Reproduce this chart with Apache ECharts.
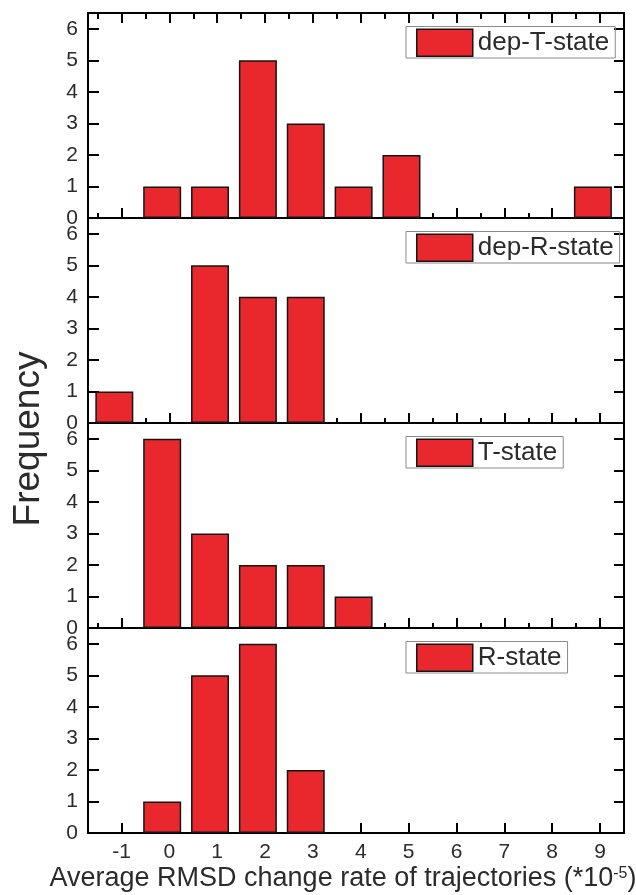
<!DOCTYPE html>
<html><head><meta charset="utf-8">
<script src="https://cdn.jsdelivr.net/npm/echarts@6/dist/echarts.min.js"></script>
<style>html,body{margin:0;padding:0;background:#fff}#c{width:636px;height:895px}</style>
</head><body><div id="c"></div><script>
// ---- data ----
const binCenters = [-1.15, -0.15, 0.85, 1.85, 2.85, 3.85, 4.85, 5.85, 6.85, 7.85, 8.85];
const xTickLabels = ['-1', '0', '1', '2', '3', '4', '5', '6', '7', '8', '9'];
const yTickLabels = ['0', '1', '2', '3', '4', '5', '6'];
const panelNames = ['dep-T-state', 'dep-R-state', 'T-state', 'R-state'];
const depTState = [0, 1, 1, 5, 3, 1, 2, 0, 0, 0, 1];
const depRState = [1, 0, 5, 4, 4, 0, 0, 0, 0, 0, 0];
const tState    = [0, 6, 3, 2, 2, 1, 0, 0, 0, 0, 0];
const rState    = [0, 1, 5, 6, 2, 0, 0, 0, 0, 0, 0];
const yAxisTitle = 'Frequency';
const xAxisTitle = 'Average RMSD change rate of trajectories (*10';
const xAxisTitleSup = '-5';

// ---- styling ----
const FONT = '"Liberation Sans", Arial, sans-serif';
const TXT = '#2b2b2b';
const RED = '#e8282d';
const panelTop = [13, 218, 423, 628];
const panelH = 205;
const X_MIN = -1.7, X_MAX = 9.5, Y_MAX = 6.5;
const seriesData = [depTState, depRState, tState, rState];
const lineStyle = { color: '#000', width: 2 };

function xFmt(v) {
  const r = Math.round(v);
  if (Math.abs(v - r) > 1e-6) return '';
  const lab = xTickLabels[r + 1];
  return lab == null ? '' : lab;
}
function yFmt(v) {
  const r = Math.round(v);
  if (Math.abs(v - r) > 1e-6) return '';
  const lab = yTickLabels[r];
  return lab == null ? '' : lab;
}

const grid = [], xAxis = [], yAxis = [], series = [], legend = [];

panelNames.forEach((name, i) => {
  grid.push({ left: 88, right: 12, top: panelTop[i], height: panelH });
  const base = {
    gridIndex: i, type: 'value', min: X_MIN, max: X_MAX,
    splitLine: { show: false },
    axisLabel: { show: false },
    axisLine: { show: false, onZero: false },
    axisTick: { show: false }
  };
  const xMain = xAxis.length;
  xAxis.push(Object.assign({}, base, {
    position: 'bottom', minInterval: 1, maxInterval: 1, splitNumber: 11,
    axisLine: { show: true, onZero: false, lineStyle },
    axisTick: { show: true, inside: true, length: 10, lineStyle },
    axisLabel: {
      show: i === 3, formatter: xFmt, fontSize: 21, color: TXT,
      fontFamily: FONT, margin: 9, hideOverlap: false
    }
  }));
  if (i < 3) {
    xAxis.push(Object.assign({}, base, {
      position: 'bottom', minInterval: 0.5, maxInterval: 0.5, splitNumber: 22,
      axisTick: { show: true, inside: true, length: 5, lineStyle }
    }));
  }
  if (i === 0) {
    xAxis.push(Object.assign({}, base, {
      position: 'top', minInterval: 1, maxInterval: 1, splitNumber: 11,
      axisLine: { show: true, onZero: false, lineStyle },
      axisTick: { show: true, inside: true, length: 10, lineStyle }
    }));
    xAxis.push(Object.assign({}, base, {
      position: 'top', minInterval: 0.5, maxInterval: 0.5, splitNumber: 22,
      axisTick: { show: true, inside: true, length: 6, lineStyle }
    }));
  }
  const yLeft = yAxis.length;
  yAxis.push({
    gridIndex: i, type: 'value', min: 0, max: Y_MAX, interval: 1, position: 'left',
    splitLine: { show: false },
    axisLine: { show: true, onZero: false, lineStyle },
    axisTick: { show: true, inside: true, length: 11, lineStyle },
    axisLabel: { formatter: yFmt, fontSize: 21, color: TXT, fontFamily: FONT, margin: 10,
      showMaxLabel: true, showMinLabel: true, hideOverlap: false }
  });
  yAxis.push({
    gridIndex: i, type: 'value', min: 0, max: Y_MAX, interval: 1, position: 'right',
    splitLine: { show: false },
    axisLine: { show: true, onZero: false, lineStyle },
    axisTick: { show: true, inside: true, length: 10, lineStyle },
    axisLabel: { show: false }
  });
  series.push({
    type: 'bar', name, xAxisIndex: xMain, yAxisIndex: yLeft,
    data: binCenters.map((c, k) => [c, seriesData[i][k]]).filter(d => d[1] > 0),
    barWidth: 38,
    itemStyle: { color: RED, borderColor: '#151515', borderWidth: 1.5 },
    emphasis: { disabled: true },
    silent: true
  });
  legend.push({
    data: [name], left: 406, top: panelTop[i] + 13.5, orient: 'horizontal',
    icon: 'rect', itemWidth: 56, itemHeight: 27, itemGap: 0,
    padding: [2, 6, 1, 10], borderColor: '#8a8a8a', borderWidth: 1,
    selectedMode: false,
    itemStyle: { color: RED, borderColor: '#151515', borderWidth: 1.5 },
    textStyle: { fontSize: 26, color: TXT, fontFamily: FONT }
  });
});

const chart = echarts.init(document.getElementById('c'), null, { renderer: 'canvas' });
chart.setOption({
  animation: false,
  backgroundColor: '#fff',
  grid, xAxis, yAxis, series, legend,
  graphic: [
    {
      type: 'text', x: 29, y: 439, rotation: Math.PI / 2,
      style: { text: yAxisTitle, fontSize: 37, fill: TXT, fontFamily: FONT,
        align: 'center', verticalAlign: 'middle' }
    },
    {
      type: 'text', x: 343, y: 879,
      style: {
        text: '{n|' + xAxisTitle + '}{s|' + xAxisTitleSup + '}{n|)}',
        align: 'center', verticalAlign: 'middle', fill: TXT, fontFamily: FONT,
        rich: {
          n: { fontSize: 27, fill: TXT, fontFamily: FONT, verticalAlign: 'bottom' },
          s: { fontSize: 16, fill: TXT, fontFamily: FONT, verticalAlign: 'top' }
        }
      }
    }
  ]
});
</script></body></html>
